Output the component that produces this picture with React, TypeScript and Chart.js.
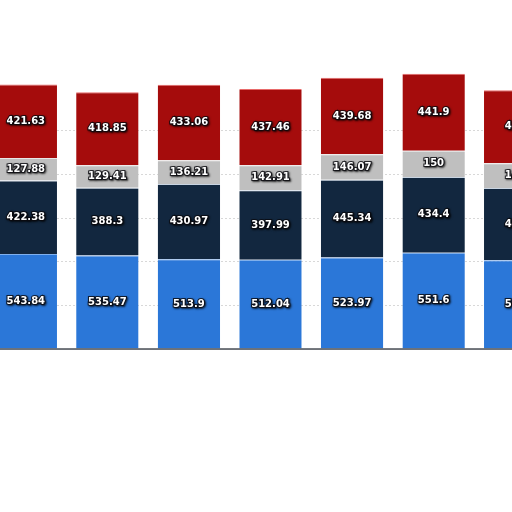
import React, { useEffect, useRef } from "react";
import { Chart, registerables, Plugin } from "chart.js";

Chart.register(...registerables);

const categories = ["1", "2", "3", "4", "5", "6", "7"];
const blueValues = [543.84, 535.47, 513.9, 512.04, 523.97, 551.6, 508];
const navyValues = [422.38, 388.3, 430.97, 397.99, 445.34, 434.4, 415];
const grayValues = [127.88, 129.41, 136.21, 142.91, 146.07, 150, 142];
const redValues = [421.63, 418.85, 433.06, 437.46, 439.68, 441.9, 418];

// white value labels with a dark halo, centred in each segment
const segmentLabels: Plugin<"bar"> = {
  id: "segmentLabels",
  afterDatasetsDraw(chart) {
    const ctx = chart.ctx;
    ctx.save();
    ctx.font = "bold 10px 'DejaVu Sans'";
    ctx.textAlign = "center";
    ctx.textBaseline = "middle";
    chart.data.datasets.forEach((ds, i) => {
      const meta = chart.getDatasetMeta(i);
      meta.data.forEach((bar: any, j) => {
        const text = String(ds.data[j]);
        const { x, y, base } = bar.getProps(["x", "y", "base"], true);
        const cy = (y + base) / 2;
        ctx.shadowColor = "rgba(0,0,0,0.9)";
        ctx.shadowBlur = 2;
        ctx.shadowOffsetX = 1;
        ctx.shadowOffsetY = 1;
        ctx.lineWidth = 2.2;
        ctx.strokeStyle = "rgba(10,10,15,0.8)";
        ctx.strokeText(text, x, cy);
        ctx.shadowColor = "transparent";
        ctx.fillStyle = "#ffffff";
        ctx.fillText(text, x, cy);
      });
    });
    ctx.restore();
  },
};

// dark baseline under the bars
const baseline: Plugin<"bar"> = {
  id: "baseline",
  afterDatasetsDraw(chart) {
    const { ctx, chartArea } = chart;
    ctx.save();
    ctx.strokeStyle = "rgba(0,0,0,0.15)";
    ctx.lineWidth = 3;
    ctx.beginPath();
    ctx.moveTo(chartArea.left, chartArea.bottom + 1.5);
    ctx.lineTo(chartArea.right, chartArea.bottom + 1.5);
    ctx.stroke();
    ctx.strokeStyle = "#4a4f57";
    ctx.lineWidth = 1.5;
    ctx.beginPath();
    ctx.moveTo(chartArea.left, chartArea.bottom);
    ctx.lineTo(chartArea.right, chartArea.bottom);
    ctx.stroke();
    ctx.restore();
  },
};

const App: React.FC = () => {
  const canvasRef = useRef<HTMLCanvasElement | null>(null);
  const chartRef = useRef<Chart | null>(null);

  useEffect(() => {
    if (!canvasRef.current) return;
    const ctx = canvasRef.current.getContext("2d");
    if (!ctx) return;

    const seg = (label: string, data: number[], color: string, edge: string) => ({
      label,
      data,
      backgroundColor: color,
      borderColor: edge,
      borderWidth: { top: 1, left: 0, right: 0, bottom: 0 },
      borderSkipped: false as const,
      barPercentage: 0.765,
      categoryPercentage: 1,
    });

    chartRef.current = new Chart(ctx, {
      type: "bar",
      data: {
        labels: categories,
        datasets: [
          seg("Series 1", blueValues, "#2b77d8", "#7fb0ee"),
          seg("Series 2", navyValues, "#12273f", "#c8d4e2"),
          seg("Series 3", grayValues, "#bfbfbf", "#e8e8e8"),
          seg("Series 4", redValues, "#a50c0c", "#e86a6a"),
        ],
      },
      options: {
        animation: false,
        responsive: true,
        maintainAspectRatio: false,
        layout: { padding: { top: 0, bottom: 1, left: 0, right: 0 } },
        plugins: {
          legend: { display: false },
          tooltip: { enabled: false },
        },
        scales: {
          x: {
            display: false,
            stacked: true,
          },
          y: {
            stacked: true,
            min: 0,
            max: 2000,
            ticks: { display: false, stepSize: 250 },
            grid: {
              drawTicks: false,
              lineWidth: 1,
              color: (c: any) =>
                c.tick && (c.tick.value >= 1500 || c.tick.value === 0)
                  ? "rgba(0,0,0,0)"
                  : "#d8d8d8",
            },
            border: { display: false, dash: [2, 2] },
          },
        },
      },
      plugins: [baseline, segmentLabels],
    });

    return () => {
      if (chartRef.current) {
        chartRef.current.destroy();
        chartRef.current = null;
      }
    };
  }, []);

  return (
    <div
      style={{
        position: "fixed",
        top: 0,
        left: -15,
        width: 571,
        height: 350,
        background: "#fff",
      }}
    >
      <canvas ref={canvasRef}></canvas>
    </div>
  );
};

export default App;
